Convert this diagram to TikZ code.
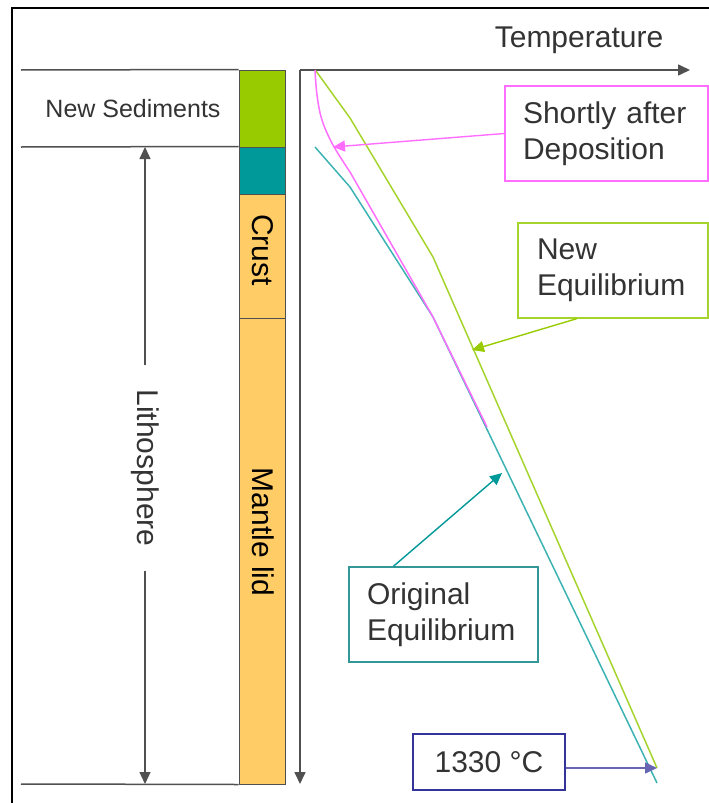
\documentclass[tikz,border=0pt]{standalone}
\usepackage{fontspec}
\setmainfont{Liberation Sans}
\usetikzlibrary{arrows.meta,positioning,calc}
\definecolor{geoInk}{RGB}{51,51,51}
\definecolor{geoRule}{RGB}{80,80,80}
\definecolor{geoSed}{RGB}{153,204,0}
\definecolor{geoTeal}{RGB}{0,153,153}
\definecolor{geoSand}{RGB}{255,204,102}
\definecolor{geoPink}{RGB}{255,110,255}
\definecolor{geoLime}{RGB}{165,212,45}
\definecolor{geoCyan}{RGB}{60,178,178}
\definecolor{geoNavy}{RGB}{51,51,153}
\tikzset{
  gtext/.style={font=\fontsize{30}{36}\selectfont, text=geoInk, inner sep=0pt},
  gsmall/.style={font=\fontsize{25}{30}\selectfont, text=geoInk, inner sep=0pt},
  gbox/.style={gtext, draw, line width=1.4pt, align=left, inner xsep=18pt,
    inner ysep=0pt, minimum height=95pt},
  gflow/.style={-{Triangle[length=12pt,width=11pt]}, line width=1.4pt},
  gaxis/.style={-{Triangle[length=12pt,width=11pt]}, line width=1.6pt, draw=geoRule}
}

\begin{document}
\begin{tikzpicture}[x=1pt, y=-1pt,
  layer/.style={draw=geoRule, line width=1pt, minimum width=46pt, inner sep=0pt},
  rule/.style={draw=geoRule, line width=1.5pt},
  curve/.style={line width=1.5pt, line join=round}
]
\useasboundingbox (0,0) rectangle (709,803);
\draw[line width=1.6pt] (12,803) -- (12,8) -- (709,8);

% rock column
\node[layer, fill=geoSed, minimum height=77pt] (sed) at (262,108.5) {};
\node[layer, fill=geoTeal, minimum height=47pt] (base) at (262,170.5) {};
\node[layer, fill=geoSand, minimum height=124pt] (crust) at (262,256) {};
\node[layer, fill=geoSand, minimum height=466pt] (mantle) at (262,551) {};
\node[gtext, text=black, rotate=-90] (crustlbl) at (263,250) {Crust};
\node[gtext, text=black, rotate=-90] (mantlelbl) at (263,532) {Mantle lid};

\draw[rule] (21,70) -- (sed.north west);
\draw[rule] (21,147) -- (base.north west);
\draw[rule] (21,784) -- (mantle.south west);
\node[gsmall] (sedlbl) at (133,109) {New Sediments};

\coordinate (lithoTop) at (145,147);
\coordinate (lithoBot) at (145,784);
\node[gtext, rotate=-90, inner xsep=24pt] (litho) at (145,468) {Lithosphere};
\draw[gaxis, line width=1.3pt] (litho.west) -- (lithoTop);
\draw[gaxis, line width=1.3pt] (litho.east) -- (lithoBot);

% axes
\coordinate (origin) at (300,70);
\coordinate (tEnd) at (690,70);
\coordinate (zEnd) at (300,784);
\draw[gaxis] (origin) -- (tEnd);
\draw[gaxis] (origin) -- (zEnd);
\node[gtext, anchor=base] (templbl) at (579,47) {Temperature};

% geotherms
\draw[curve, draw=geoCyan] (315,147) -- (350,187) -- (433,317) -- (657,783);
\draw[curve, draw=geoLime] (316,71) -- (350,118) -- (433,257) -- (657,768);
\draw[curve, draw=geoPink] plot[smooth, tension=0.6] coordinates
  {(315,70) (317,95) (322,120) (333,145) (350,172)}
  -- (433,317) -- (487,427);

% labels
\node[gbox, draw=geoPink, text width=167pt] (pinkBox) at (606.5,133.5)
  {Shortly after\\Deposition};
\node[gbox, draw=geoLime, text width=152pt, inner xsep=19pt] (limeBox) at (613,270.5)
  {New\\Equilibrium};
\node[gbox, draw=geoCyan!85!black, text width=153pt] (cyanBox) at (443.5,614.5)
  {Original\\Equilibrium};
\node[gtext, draw=geoNavy, line width=1.4pt, minimum width=152pt,
  minimum height=56pt] (hotBox) at (489,762) {1330 °C};

\coordinate (pinkTip) at (333,147);
\coordinate (limeTip) at (472,350);
\coordinate (cyanTip) at (502,473);
\coordinate (hotTip) at (657,768);
\draw[gflow, draw=geoPink] (pinkBox.west) -- (pinkTip);
\draw[gflow, draw=geoSed] ($(limeBox.south west)!0.31!(limeBox.south east)$) -- (limeTip);
\draw[gflow, draw=geoTeal] ($(cyanBox.north west)!0.237!(cyanBox.north east)$) -- (cyanTip);
\draw[gflow, draw=geoNavy!75] (hotBox.east |- hotTip) -- (hotTip);
\end{tikzpicture}
\end{document}
